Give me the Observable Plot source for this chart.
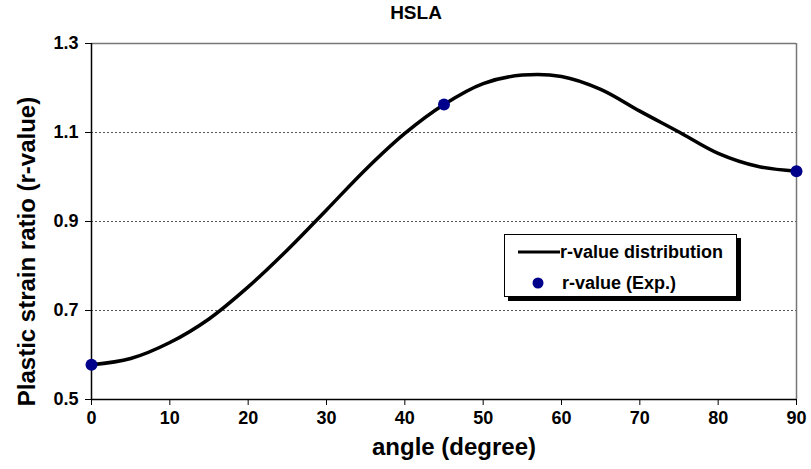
<!DOCTYPE html>
<html>
<head>
<meta charset="utf-8">
<script src="https://cdn.jsdelivr.net/npm/d3@7"></script>
<script src="https://cdn.jsdelivr.net/npm/@observablehq/plot@0.6"></script>
<style>
  body { margin: 0; background: #fff; font-family: "Liberation Sans", Arial, sans-serif; }
  #wrap { position: relative; width: 811px; height: 469px; overflow: hidden; }
  #title { position: absolute; left: 316px; width: 200px; top: 2px; text-align: center; font-weight: bold; font-size: 19px; }
  #chart { position: absolute; left: 0; top: 30px; }
  #legend { position: absolute; left: 504px; top: 234px; width: 231px; height: 61px; background: #fff; border: 1px solid #000; box-shadow: 4px 4px 0 #000; font-weight: bold; font-size: 18px; }
  .row { position: absolute; display: flex; align-items: center; }
</style>
</head>
<body>
<div id="wrap">
  <div id="title">HSLA</div>
  <div id="chart"></div>
  <div id="legend">
    <div class="row" style="top:6px;left:13px"><svg width="42" height="22"><line x1="0" y1="11" x2="42" y2="11" stroke="#000" stroke-width="3"/></svg><span>r-value distribution</span></div>
    <div class="row" style="top:37px;left:25px"><svg width="32" height="22"><circle cx="8" cy="11" r="5.5" fill="#00008B"/></svg><span>r-value (Exp.)</span></div>
  </div>
</div>
<script>
const angles = [0, 5, 10, 15, 20, 25, 30, 35, 40, 45, 50, 55, 60, 65, 70, 75, 80, 85, 90];
const rDist  = [0.578, 0.592, 0.628, 0.681, 0.753, 0.836, 0.926, 1.017, 1.098, 1.163, 1.210, 1.229, 1.226, 1.197, 1.148, 1.101, 1.053, 1.024, 1.013];
const expAngles = [0, 45, 90];
const expR      = [0.578, 1.163, 1.013];
const xTicks = [0, 10, 20, 30, 40, 50, 60, 70, 80, 90];
const yTicks = [0.5, 0.7, 0.9, 1.1, 1.3];
const gridTicks = [0.7, 0.9, 1.1];

const dist = angles.map((a, i) => ({angle: a, r: rDist[i]}));
const exp = expAngles.map((a, i) => ({angle: a, r: expR[i]}));

const plot = Plot.plot({
  width: 811,
  height: 439,
  marginLeft: 91,
  marginRight: 15,
  marginTop: 13,
  marginBottom: 70,
  style: {fontFamily: "'Liberation Sans', Arial, sans-serif", fontWeight: "bold", fontSize: "18px", color: "#000", background: "#fff", overflow: "visible"},
  x: {domain: [0, 90]},
  y: {domain: [0.5, 1.3]},
  marks: [
    Plot.ruleY(gridTicks, {stroke: "#555", strokeDasharray: "2,2", strokeWidth: 1}),
    Plot.ruleY([1.3], {stroke: "#777", strokeWidth: 1.5}),
    Plot.ruleX([90], {stroke: "#777", strokeWidth: 1.5}),
    Plot.ruleX([0], {stroke: "#000", strokeWidth: 1.5}),
    Plot.ruleY([0.5], {stroke: "#000", strokeWidth: 1.5}),
    Plot.axisX({ticks: xTicks, tickSize: 6, tickPadding: 6, label: null, fontSize: 18, fontWeight: "bold"}),
    Plot.axisY({ticks: yTicks, tickFormat: d3.format(".1f"), tickSize: 6, tickPadding: 7, label: null, fontSize: 18, fontWeight: "bold"}),
    Plot.line(dist, {x: "angle", y: "r", stroke: "#000", strokeWidth: 3.5, curve: "catmull-rom"}),
    Plot.dot(exp, {x: "angle", y: "r", r: 6, fill: "#00008B", stroke: "none"}),
    Plot.text(["angle (degree)"], {frameAnchor: "bottom", dx: 10, dy: 55, fontSize: 24, fontWeight: "bold", textAnchor: "middle"}),
    Plot.text(["Plastic strain ratio (r-value)"], {frameAnchor: "left", dx: -64, dy: 30, rotate: -90, textAnchor: "middle", fontSize: 24, fontWeight: "bold"})
  ]
});
document.getElementById("chart").append(plot);
</script>
</body>
</html>
